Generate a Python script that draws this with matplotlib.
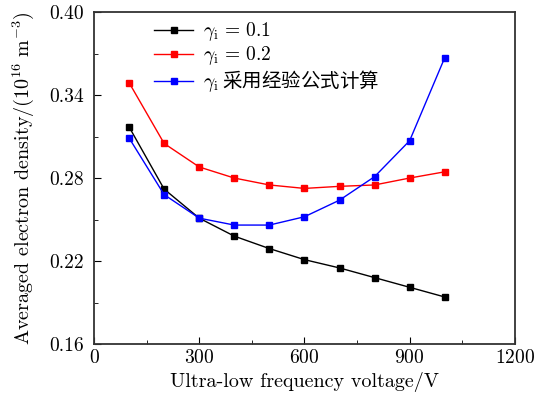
import numpy as np
import matplotlib.pyplot as plt
from matplotlib.ticker import FixedLocator, MultipleLocator, FormatStrFormatter

plt.rcParams['font.family'] = ['cmr10', 'Noto Sans CJK SC']
plt.rcParams['mathtext.fontset'] = 'cm'
plt.rcParams['axes.formatter.use_mathtext'] = True

# data
voltage = [100, 200, 300, 400, 500, 600, 700, 800, 900, 1000]
gamma_01 = [0.317, 0.272, 0.251, 0.238, 0.229, 0.221, 0.215, 0.208, 0.201, 0.194]
gamma_02 = [0.349, 0.305, 0.288, 0.280, 0.275, 0.2725, 0.274, 0.275, 0.280, 0.2845]
gamma_emp = [0.309, 0.268, 0.251, 0.246, 0.246, 0.252, 0.264, 0.281, 0.307, 0.367]
yticks = [0.16, 0.22, 0.28, 0.34, 0.40]
yminor = [0.19, 0.25, 0.31, 0.37]

fig = plt.figure(figsize=(5.38, 4.03), dpi=100)
ax = fig.add_axes([0.1747, 0.1464, 0.7823, 0.8236])

ax.plot(voltage, gamma_01, 's-', color='black', ms=5, lw=1, label=r'$\gamma_{\rm i}\,=\,0.1$')
ax.plot(voltage, gamma_02, 's-', color='red', ms=5, lw=1, label=r'$\gamma_{\rm i}\,=\,0.2$')
ax.plot(voltage, gamma_emp, 's-', color='blue', ms=5, lw=1, label=r'$\gamma_{\rm i}$ 采用经验公式计算')

ax.set_xlim(0, 1200)
ax.set_ylim(0.16, 0.40)
ax.xaxis.set_major_locator(MultipleLocator(300))
ax.xaxis.set_minor_locator(MultipleLocator(150))
ax.yaxis.set_major_locator(FixedLocator(yticks))
ax.yaxis.set_minor_locator(FixedLocator(yminor))
ax.yaxis.set_major_formatter(FormatStrFormatter('%.2f'))
ax.tick_params(which='both', direction='in', labelsize=14)
ax.tick_params(which='major', length=5)
ax.tick_params(which='minor', length=3)
ax.tick_params(axis='y', pad=7)
for s in ax.spines.values():
    s.set_linewidth(1.3)
    s.set_color('#333333')

ax.set_xlabel('Ultra-low frequency voltage/V', fontsize=14.5)
ax.set_ylabel(r'Averaged electron density/$(10^{16}\ \rm m^{-3})$', fontsize=14.5, labelpad=10)

leg = ax.legend(loc='upper left', bbox_to_anchor=(0.115, 1.01), frameon=False, fontsize=14,
                handlelength=2, handletextpad=0.5, labelspacing=0.05, borderaxespad=0.2)
leg.get_texts()[2].set_fontfamily('Noto Sans CJK SC')

plt.savefig('out.png')
